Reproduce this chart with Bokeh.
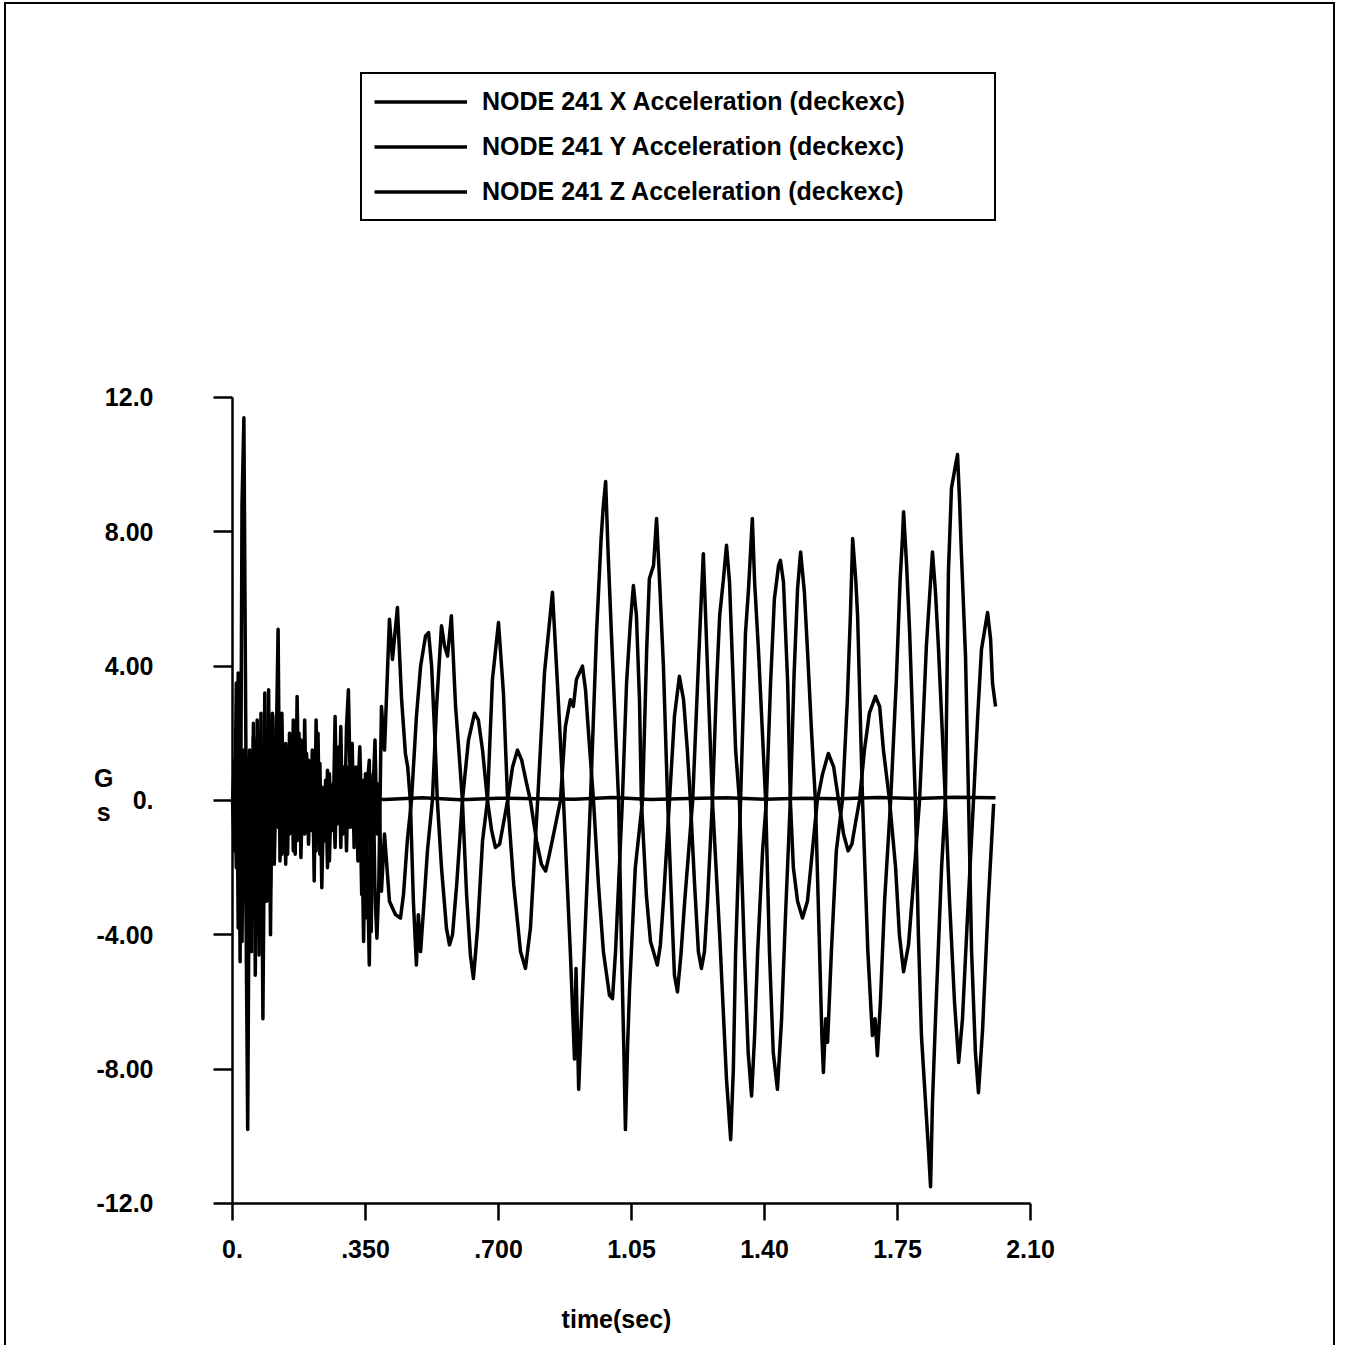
from bokeh.plotting import figure
from bokeh.models import Range1d, FixedTicker, Label
from bokeh.embed import file_html
from bokeh.resources import INLINE

# ---------------- data ----------------
t_early = [0.000, 0.005, 0.010, 0.015, 0.020, 0.025, 0.030, 0.035, 0.040, 0.045,
           0.050, 0.055, 0.060, 0.065, 0.070, 0.075, 0.080, 0.085, 0.090, 0.095,
           0.100, 0.105, 0.110, 0.115, 0.120, 0.125, 0.130, 0.135, 0.140, 0.145,
           0.150, 0.155, 0.160, 0.165, 0.170, 0.175, 0.180, 0.185, 0.190, 0.195,
           0.200, 0.205, 0.210, 0.215, 0.220, 0.225, 0.230, 0.235, 0.240, 0.245,
           0.250, 0.255, 0.260, 0.265, 0.270, 0.275, 0.280, 0.285, 0.290, 0.295,
           0.300, 0.305, 0.310, 0.315, 0.320, 0.325, 0.330, 0.335, 0.340, 0.345,
           0.350, 0.355, 0.360, 0.365, 0.370, 0.375, 0.380, 0.385]

z_early = [0.0, 1.2, -2.0, 3.8, -4.8, 8.8, 11.4, 2.0, -5.3, 1.5,
           -3.5, 1.9, -5.2, 2.4, -4.0, 2.6, -6.5, 1.0, -3.0, 3.3,
           -4.0, 2.6, -1.9, 1.5, 5.1, -1.8, 2.6, -1.2, 1.7, -1.6,
           2.0, -0.8, 2.4, -1.6, 3.1, -0.5, 1.8, -0.8, 2.4, -0.9,
           1.2, -0.4, 1.5, -2.4, 2.4, -1.0, 1.1, -2.6, 0.2, -1.2,
           0.9, -1.8, 0.3, -0.6, 2.5, -0.7, 1.6, -1.4, 1.0, -0.6,
           2.2, 3.3, 0.4, 1.7, -1.4, 1.0, 0.2, 1.6, -0.5, -4.2,
           0.8, -2.0, -4.9, -0.4, 0.8, -2.8, -4.1, -2.5]

y_early = [0.0, -1.5, 3.5, -3.8, 2.0, -4.2, 1.5, -2.5, -9.8, 0.5,
           -4.5, 2.3, -3.0, 1.8, -4.6, 1.2, -3.5, 3.2, -2.0, 2.0,
           -2.6, 1.0, -1.4, 2.5, -0.8, 2.0, -1.6, 0.8, -1.9, 1.3,
           -1.0, 1.6, -1.5, 0.9, -1.2, 2.0, -1.7, 0.6, -1.0, 1.4,
           -1.3, 0.5, -0.9, 0.8, -1.5, 2.0, -1.6, 0.4, -1.0, 0.6,
           -2.0, 0.8, -0.9, 0.5, -1.4, 1.5, -0.6, 2.2, -1.0, 0.7,
           -1.5, 1.0, -0.8, 0.6, -0.4, 0.8, -1.8, 0.3, -2.8, 0.6,
           -3.5, 0.5, 1.2, -3.9, 0.3, 1.8, -1.0, 0.5]

z_t_late = [0.392, 0.400, 0.413, 0.421, 0.434, 0.445, 0.455, 0.461, 0.468, 0.476,
            0.484, 0.489, 0.495, 0.503, 0.513, 0.526, 0.537, 0.550, 0.558, 0.566,
            0.576, 0.587, 0.595, 0.605, 0.616, 0.626, 0.634, 0.645, 0.658, 0.671,
            0.684, 0.700, 0.713, 0.724, 0.740, 0.758, 0.771, 0.784, 0.803, 0.821,
            0.842, 0.855, 0.871, 0.889, 0.900, 0.904, 0.911, 0.920, 0.942, 0.958,
            0.970, 0.976, 0.982, 0.988, 0.997, 1.016, 1.024, 1.030, 1.034, 1.040,
            1.045, 1.060, 1.079, 1.090, 1.097, 1.108, 1.116, 1.124, 1.134, 1.145,
            1.158, 1.163, 1.171, 1.180, 1.190, 1.211, 1.224, 1.232, 1.239, 1.245,
            1.253, 1.263, 1.282, 1.300, 1.311, 1.318, 1.324, 1.337, 1.350, 1.358,
            1.368, 1.374, 1.384, 1.403, 1.413, 1.423, 1.434, 1.445, 1.455, 1.468,
            1.478, 1.487, 1.495, 1.505, 1.513, 1.524, 1.534, 1.545, 1.551, 1.555,
            1.561, 1.566, 1.576, 1.589, 1.605, 1.618, 1.626, 1.632, 1.640, 1.645,
            1.658, 1.672, 1.684, 1.691, 1.697, 1.705, 1.716, 1.732, 1.747, 1.757,
            1.763, 1.766, 1.774, 1.782, 1.797, 1.805, 1.813, 1.826, 1.832, 1.837,
            1.842, 1.850, 1.866, 1.876, 1.884, 1.892, 1.903, 1.908, 1.913, 1.918,
            1.929, 1.937, 1.945, 1.955, 1.963, 1.966, 1.974, 1.989, 2.003]
z_v_late = [2.8, 1.5, 5.4, 4.2, 5.75, 3.0, 1.4, 1.0, 0.0, -3.0,
            -4.9, -3.4, -4.5, -3.2, -1.5, 0.0, 2.8, 5.2, 4.6, 4.3,
            5.5, 2.8, 1.6, 0.0, -2.8, -4.6, -5.3, -3.8, -1.2, 0.0,
            3.6, 5.3, 3.2, 0.0, -2.5, -4.5, -5.0, -3.8, 0.0, 3.8,
            6.2, 3.5, 0.0, -4.5, -7.7, -5.0, -8.6, -6.0, 0.0, 5.0,
            7.8, 8.8, 9.5, 7.5, 5.0, 0.0, -4.5, -7.5, -9.8, -7.2,
            -5.6, -2.0, 0.0, 4.5, 6.6, 7.0, 8.4, 6.5, 4.0, 0.0,
            -3.8, -5.2, -5.7, -4.6, -3.0, 0.0, 3.5, 5.6, 7.35, 5.5,
            3.0, 0.0, -4.0, -8.3, -10.1, -8.0, -4.5, 0.0, 5.0, 6.3,
            8.4, 6.5, 4.5, 0.0, -4.5, -7.5, -8.6, -6.5, -3.5, 0.0,
            3.8, 6.3, 7.4, 6.2, 4.5, 2.0, 0.0, -4.5, -7.0, -8.1,
            -6.5, -7.2, -4.5, -1.5, 0.0, 3.0, 5.5, 7.8, 6.6, 5.5,
            0.0, -4.5, -7.0, -6.5, -7.6, -6.0, -3.0, 0.0, 3.6, 6.6,
            7.8, 8.6, 7.0, 5.0, 0.0, -4.0, -7.0, -9.4, -10.5, -11.5,
            -9.0, -6.5, -2.0, 0.0, 6.8, 9.3, 10.0, 10.3, 9.0, 7.4,
            4.3, 0.0, -4.5, -7.5, -8.7, -8.2, -6.8, -3.0, -0.1]

y_t_late = [0.392, 0.400, 0.413, 0.429, 0.442, 0.450, 0.460, 0.471, 0.484, 0.495,
            0.508, 0.516, 0.524, 0.534, 0.539, 0.550, 0.563, 0.571, 0.579, 0.590,
            0.605, 0.621, 0.637, 0.647, 0.658, 0.671, 0.682, 0.692, 0.703, 0.716,
            0.724, 0.737, 0.750, 0.761, 0.774, 0.784, 0.800, 0.813, 0.824, 0.834,
            0.845, 0.863, 0.876, 0.889, 0.897, 0.905, 0.921, 0.929, 0.937, 0.950,
            0.963, 0.976, 0.992, 1.000, 1.008, 1.016, 1.026, 1.037, 1.047, 1.055,
            1.063, 1.071, 1.076, 1.089, 1.100, 1.118, 1.126, 1.134, 1.150, 1.163,
            1.176, 1.187, 1.197, 1.205, 1.216, 1.226, 1.234, 1.242, 1.250, 1.263,
            1.274, 1.282, 1.292, 1.300, 1.308, 1.316, 1.324, 1.334, 1.347, 1.357,
            1.366, 1.374, 1.382, 1.395, 1.405, 1.416, 1.426, 1.437, 1.442, 1.450,
            1.461, 1.468, 1.476, 1.487, 1.500, 1.513, 1.526, 1.539, 1.553, 1.568,
            1.582, 1.595, 1.608, 1.620, 1.630, 1.639, 1.650, 1.663, 1.676, 1.692,
            1.703, 1.713, 1.729, 1.745, 1.755, 1.766, 1.779, 1.795, 1.808, 1.818,
            1.826, 1.834, 1.842, 1.850, 1.858, 1.868, 1.876, 1.887, 1.900, 1.911,
            1.921, 1.934, 1.950, 1.961, 1.971, 1.987, 1.995, 2.000, 2.008]
y_v_late = [-2.7, -1.0, -3.0, -3.4, -3.5, -2.8, -1.2, 0.0, 2.5, 4.0,
            4.9, 5.0, 4.0, 1.5, 0.0, -2.0, -3.8, -4.3, -4.0, -2.5,
            0.0, 1.8, 2.6, 2.4, 1.5, 0.0, -0.9, -1.4, -1.3, -0.5,
            0.0, 1.0, 1.5, 1.2, 0.5, 0.0, -1.2, -1.9, -2.1, -1.6,
            -1.0, 0.0, 2.2, 3.0, 2.8, 3.6, 4.0, 3.3, 2.0, 0.0,
            -2.5, -4.5, -5.8, -5.9, -4.5, -2.5, 0.0, 3.5, 5.3, 6.4,
            5.5, 3.0, 0.0, -2.8, -4.2, -4.9, -4.3, -3.0, 0.0, 2.5,
            3.7, 3.0, 1.5, 0.0, -2.5, -4.5, -5.0, -4.5, -3.0, 0.0,
            3.5, 5.5, 6.6, 7.6, 6.5, 4.0, 1.5, 0.0, -4.5, -7.5,
            -8.8, -7.0, -4.5, -1.5, 0.0, 3.5, 6.0, 7.0, 7.15, 6.5,
            3.5, 0.0, -2.0, -3.0, -3.5, -3.0, -1.5, 0.0, 0.8, 1.4,
            1.0, 0.0, -1.0, -1.5, -1.3, -0.7, 0.0, 1.5, 2.6, 3.1,
            2.8, 1.5, 0.0, -2.0, -4.0, -5.1, -4.3, -2.0, 0.0, 2.5,
            4.6, 6.0, 7.4, 6.2, 4.5, 2.0, 0.0, -3.0, -6.0, -7.8,
            -6.5, -3.5, 0.0, 2.5, 4.5, 5.6, 4.8, 3.5, 2.8]

x_t = [0.0, 0.1, 0.2, 0.3, 0.4, 0.5, 0.6, 0.7, 0.8, 0.9, 1.0,
       1.1, 1.2, 1.3, 1.4, 1.5, 1.6, 1.7, 1.8, 1.9, 2.0, 2.008]
x_v = [0.0, 0.05, -0.02, 0.06, 0.03, 0.08, 0.02, 0.07, 0.05, 0.04, 0.09,
       0.03, 0.06, 0.08, 0.04, 0.07, 0.05, 0.09, 0.06, 0.10, 0.08, 0.08]

x_ticks = [0.0, 0.35, 0.70, 1.05, 1.40, 1.75, 2.10]
x_tick_labels = ["0.", ".350", ".700", "1.05", "1.40", "1.75", "2.10"]
y_ticks = [-12, -8, -4, 0, 4, 8, 12]
y_tick_labels = ["-12.0", "-8.00", "-4.00", "0.", "4.00", "8.00", "12.0"]

series_names = ["NODE 241 X Acceleration (deckexc)",
                "NODE 241 Y Acceleration (deckexc)",
                "NODE 241 Z Acceleration (deckexc)"]

# ---------------- figure ----------------
FONT = "Liberation Sans"
FS = "25px"
FSTYLE = "bold"

# the frame fills the whole canvas; axes are pinned at t=0 and G=-12
p = figure(width=1331, height=1343, output_backend="svg", toolbar_location=None,
           x_range=Range1d(-0.59474, 2.90789), y_range=Range1d(-16.288, 23.702),
           min_border=0,
           styles={"border-top": "2px solid black", "border-left": "2px solid black",
                   "border-right": "2px solid black",
                   "margin-left": "4px", "margin-top": "2px"})
p.outline_line_color = None
p.xgrid.visible = False
p.ygrid.visible = False
p.background_fill_color = "white"
p.border_fill_color = "white"

z_t = t_early + z_t_late
z_v = z_early + z_v_late
y_t = t_early + y_t_late
y_v = y_early + y_v_late

LW = 3.5
p.line(x_t, x_v, line_color="black", line_width=LW, line_join="round",
       legend_label=series_names[0])
p.line(y_t, y_v, line_color="black", line_width=LW, line_join="round",
       legend_label=series_names[1])
p.line(z_t, z_v, line_color="black", line_width=LW, line_join="round",
       legend_label=series_names[2])

# axes
xa = p.xaxis[0]
xa.ticker = FixedTicker(ticks=x_ticks)
xa.major_label_overrides = {t: s for t, s in zip(x_ticks, x_tick_labels)}
xa.fixed_location = -12
xa.bounds = (0, 2.10)
ya = p.yaxis[0]
ya.ticker = FixedTicker(ticks=y_ticks)
ya.major_label_overrides = {t: s for t, s in zip(y_ticks, y_tick_labels)}
ya.fixed_location = 0
ya.bounds = (-12, 12)
for ax in (xa, ya):
    ax.axis_line_width = 2.5
    ax.axis_line_color = "black"
    ax.major_tick_line_width = 2.5
    ax.major_tick_line_color = "black"
    ax.major_tick_in = 0
    ax.minor_tick_line_color = None
    ax.major_label_text_font = FONT
    ax.major_label_text_font_size = FS
    ax.major_label_text_font_style = FSTYLE
    ax.major_label_text_color = "black"
xa.major_tick_out = 17
xa.major_label_standoff = 20
ya.major_tick_out = 19
ya.major_label_standoff = 60

# axis titles
for txt, xx, yy in [("G", -0.339, 0.655), ("s", -0.339, -0.33), ("time(sec)", 1.0105, -15.43)]:
    p.add_layout(Label(x=xx, y=yy, text=txt, text_font=FONT, text_font_size=FS,
                       text_font_style=FSTYLE, text_align="center",
                       text_baseline="middle", text_color="black"))

# legend
lg = p.legend[0]
lg.location = (354, 1126)
lg.border_line_color = "black"
lg.border_line_alpha = 1.0
lg.border_line_width = 2.5
lg.background_fill_color = "white"
lg.background_fill_alpha = 1.0
lg.padding = 12
lg.spacing = 14
lg.glyph_width = 93
lg.glyph_height = 31
lg.label_height = 31
lg.label_width = 500
lg.label_standoff = 15
lg.label_text_font = FONT
lg.label_text_font_size = FS
lg.label_text_font_style = FSTYLE
lg.label_text_color = "black"
lg.margin = 0

open("out.html", "w").write(file_html(p, INLINE))
